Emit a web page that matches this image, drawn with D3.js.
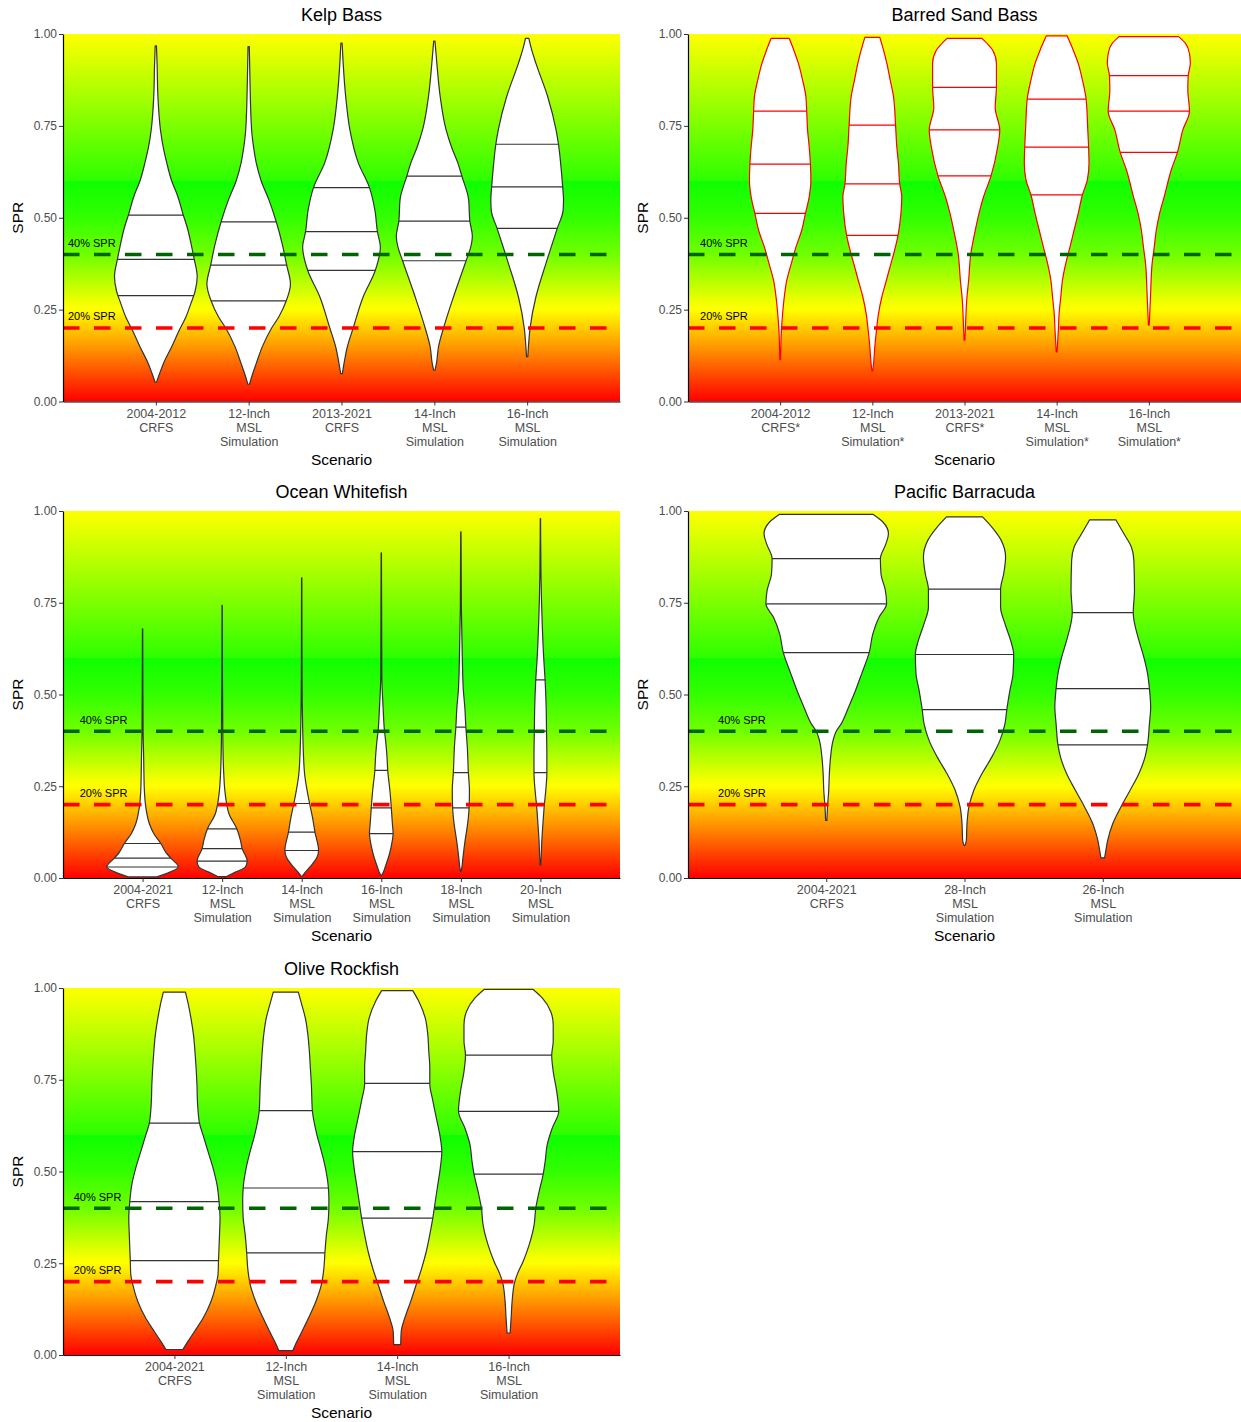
<!DOCTYPE html>
<html>
<head>
<meta charset="utf-8">
<script src="https://cdn.jsdelivr.net/npm/d3@7"></script>
<style>
  body { margin: 0; background: #ffffff; }
  svg { display: block; font-family: "Liberation Sans", Arial, Helvetica, sans-serif; }
</style>
</head>
<body>
<svg id="chart" width="1241" height="1422"></svg>
<script>
// ---- Kelp Bass ----
const kelpCategories = ["2004-2012\nCRFS", "12-Inch\nMSL\nSimulation", "2013-2021\nCRFS", "14-Inch\nMSL\nSimulation", "16-Inch\nMSL\nSimulation"];
// quartiles (75%, 50%, 25%)
const kelpQuantiles = [
  [0.507, 0.387, 0.288],
  [0.489, 0.371, 0.274],
  [0.582, 0.462, 0.357],
  [0.613, 0.491, 0.383],
  [0.700, 0.584, 0.471]
];
// density profiles: [SPR, relative half-width]
const kelpProfiles = [
  [[0.968,0.015],[0.92,0.03],[0.83,0.05],[0.74,0.11],[0.69,0.18],[0.65,0.26],[0.60,0.38],[0.56,0.52],[0.51,0.65],[0.47,0.76],[0.42,0.86],[0.387,0.92],[0.34,0.99],[0.30,0.94],[0.267,0.84],[0.23,0.72],[0.194,0.56],[0.149,0.38],[0.103,0.18],[0.076,0.09],[0.053,0.02]],
  [[0.966,0.015],[0.88,0.03],[0.74,0.07],[0.69,0.12],[0.65,0.18],[0.60,0.30],[0.55,0.48],[0.489,0.66],[0.43,0.80],[0.371,0.91],[0.32,1.0],[0.274,0.90],[0.23,0.72],[0.20,0.55],[0.15,0.33],[0.103,0.18],[0.07,0.08],[0.047,0.02]],
  [[0.975,0.015],[0.92,0.04],[0.83,0.10],[0.74,0.20],[0.65,0.40],[0.582,0.67],[0.52,0.80],[0.462,0.86],[0.42,0.93],[0.357,0.81],[0.285,0.52],[0.20,0.28],[0.149,0.14],[0.103,0.06],[0.076,0.02]],
  [[0.981,0.015],[0.92,0.06],[0.83,0.14],[0.74,0.28],[0.69,0.42],[0.65,0.56],[0.613,0.66],[0.55,0.82],[0.491,0.85],[0.45,0.91],[0.42,0.87],[0.383,0.76],[0.285,0.46],[0.20,0.22],[0.149,0.10],[0.103,0.05],[0.085,0.015]],
  [[0.988,0.04],[0.96,0.10],[0.92,0.21],[0.83,0.49],[0.74,0.69],[0.70,0.75],[0.65,0.80],[0.584,0.85],[0.55,0.87],[0.52,0.86],[0.471,0.72],[0.376,0.45],[0.285,0.21],[0.20,0.07],[0.149,0.03],[0.122,0.015]]
];

// ---- Barred Sand Bass ----
const sandBassCategories = ["2004-2012\nCRFS*", "12-Inch\nMSL\nSimulation*", "2013-2021\nCRFS*", "14-Inch\nMSL\nSimulation*", "16-Inch\nMSL\nSimulation*"];
const sandBassQuantiles = [
  [0.790, 0.646, 0.512],
  [0.752, 0.592, 0.452],
  [0.855, 0.739, 0.614],
  [0.823, 0.692, 0.562],
  [0.887, 0.790, 0.678]
];
const sandBassProfiles = [
  [[0.988,0.22],[0.956,0.33],[0.92,0.44],[0.875,0.54],[0.83,0.62],[0.79,0.64],[0.74,0.66],[0.693,0.70],[0.646,0.73],[0.60,0.74],[0.557,0.70],[0.512,0.61],[0.466,0.52],[0.42,0.38],[0.376,0.27],[0.33,0.16],[0.285,0.10],[0.24,0.06],[0.194,0.03],[0.114,0.01]],
  [[0.991,0.18],[0.956,0.27],[0.92,0.35],[0.875,0.43],[0.83,0.51],[0.752,0.56],[0.693,0.59],[0.648,0.63],[0.592,0.66],[0.557,0.71],[0.512,0.69],[0.452,0.62],[0.40,0.51],[0.376,0.45],[0.33,0.34],[0.285,0.23],[0.24,0.15],[0.194,0.10],[0.149,0.06],[0.103,0.03],[0.083,0.01]],
  [[0.988,0.42],[0.97,0.58],[0.956,0.68],[0.92,0.77],[0.855,0.77],[0.80,0.74],[0.739,0.85],[0.693,0.80],[0.614,0.64],[0.557,0.46],[0.512,0.35],[0.466,0.26],[0.40,0.15],[0.33,0.10],[0.285,0.06],[0.194,0.02],[0.167,0.01]],
  [[0.995,0.25],[0.956,0.40],[0.92,0.52],[0.875,0.62],[0.823,0.71],[0.74,0.75],[0.692,0.77],[0.648,0.78],[0.603,0.74],[0.562,0.62],[0.512,0.52],[0.466,0.42],[0.42,0.32],[0.376,0.22],[0.33,0.14],[0.285,0.10],[0.24,0.06],[0.194,0.04],[0.135,0.01]],
  [[0.993,0.72],[0.975,0.88],[0.947,0.98],[0.92,1.0],[0.887,0.95],[0.848,0.94],[0.79,0.98],[0.739,0.82],[0.678,0.69],[0.63,0.54],[0.557,0.37],[0.512,0.26],[0.466,0.18],[0.42,0.13],[0.376,0.08],[0.285,0.04],[0.208,0.01]]
];

// ---- Ocean Whitefish ----
const whitefishCategories = ["2004-2021\nCRFS", "12-Inch\nMSL\nSimulation", "14-Inch\nMSL\nSimulation", "16-Inch\nMSL\nSimulation", "18-Inch\nMSL\nSimulation", "20-Inch\nMSL\nSimulation"];
const whitefishQuantiles = [
  [0.094, 0.054, 0.030],
  [0.134, 0.080, 0.046],
  [0.203, 0.125, 0.075],
  [0.293, 0.191, 0.121],
  [0.411, 0.287, 0.191],
  [0.540, 0.400, 0.287]
];
const whitefishProfiles = [
  [[0.679,0.004],[0.55,0.008],[0.40,0.015],[0.33,0.03],[0.30,0.035],[0.239,0.05],[0.193,0.09],[0.148,0.19],[0.12,0.32],[0.094,0.51],[0.07,0.65],[0.054,0.79],[0.03,1.0],[0.016,0.76],[0.003,0.40]],
  [[0.743,0.004],[0.55,0.008],[0.375,0.02],[0.284,0.045],[0.239,0.075],[0.20,0.13],[0.175,0.19],[0.134,0.41],[0.103,0.51],[0.08,0.56],[0.046,0.70],[0.03,0.65],[0.016,0.37],[0.004,0.12]],
  [[0.818,0.004],[0.55,0.01],[0.375,0.035],[0.284,0.08],[0.239,0.15],[0.203,0.22],[0.166,0.30],[0.125,0.37],[0.075,0.47],[0.057,0.43],[0.03,0.23],[0.012,0.07],[0.005,0.02]],
  [[0.886,0.004],[0.55,0.015],[0.466,0.05],[0.40,0.09],[0.375,0.12],[0.33,0.16],[0.293,0.18],[0.239,0.24],[0.191,0.28],[0.148,0.31],[0.121,0.33],[0.103,0.31],[0.066,0.23],[0.03,0.11],[0.012,0.04],[0.007,0.01]],
  [[0.943,0.004],[0.73,0.015],[0.602,0.04],[0.511,0.07],[0.466,0.11],[0.411,0.14],[0.357,0.18],[0.287,0.21],[0.239,0.24],[0.191,0.23],[0.148,0.19],[0.103,0.12],[0.057,0.06],[0.03,0.03],[0.018,0.008]],
  [[0.979,0.004],[0.83,0.015],[0.693,0.05],[0.602,0.09],[0.54,0.13],[0.466,0.16],[0.40,0.17],[0.33,0.18],[0.287,0.18],[0.239,0.15],[0.20,0.11],[0.148,0.07],[0.103,0.04],[0.057,0.02],[0.035,0.008]]
];

// ---- Pacific Barracuda ----
const barracudaCategories = ["2004-2021\nCRFS", "28-Inch\nMSL\nSimulation", "26-Inch\nMSL\nSimulation"];
const barracudaQuantiles = [
  [0.870, 0.747, 0.614],
  [0.787, 0.609, 0.459],
  [0.723, 0.516, 0.363]
];
const barracudaProfiles = [
  [[0.991,0.75],[0.97,0.91],[0.938,1.0],[0.911,0.96],[0.87,0.87],[0.829,0.88],[0.784,0.95],[0.747,0.97],[0.711,0.85],[0.666,0.75],[0.614,0.69],[0.557,0.57],[0.511,0.47],[0.466,0.36],[0.42,0.24],[0.40,0.16],[0.375,0.11],[0.33,0.07],[0.284,0.05],[0.239,0.04],[0.193,0.02],[0.157,0.01]],
  [[0.984,0.29],[0.956,0.44],[0.92,0.59],[0.875,0.66],[0.829,0.63],[0.787,0.58],[0.738,0.58],[0.693,0.65],[0.648,0.74],[0.609,0.79],[0.557,0.78],[0.511,0.73],[0.459,0.68],[0.42,0.65],[0.375,0.57],[0.33,0.44],[0.284,0.28],[0.239,0.15],[0.193,0.07],[0.148,0.04],[0.103,0.03],[0.089,0.01]],
  [[0.976,0.21],[0.938,0.34],[0.902,0.46],[0.866,0.50],[0.784,0.51],[0.723,0.49],[0.648,0.58],[0.602,0.66],[0.557,0.72],[0.516,0.75],[0.466,0.77],[0.42,0.75],[0.363,0.72],[0.33,0.68],[0.284,0.58],[0.239,0.44],[0.193,0.29],[0.148,0.16],[0.103,0.08],[0.075,0.05],[0.055,0.03]]
];

// ---- Olive Rockfish ----
const oliveCategories = ["2004-2021\nCRFS", "12-Inch\nMSL\nSimulation", "14-Inch\nMSL\nSimulation", "16-Inch\nMSL\nSimulation"];
const oliveQuantiles = [
  [0.632, 0.418, 0.257],
  [0.666, 0.455, 0.278],
  [0.740, 0.554, 0.373],
  [0.817, 0.664, 0.493]
];
const oliveProfiles = [
  [[0.989,0.22],[0.954,0.28],[0.918,0.33],[0.873,0.38],[0.827,0.41],[0.737,0.45],[0.69,0.46],[0.632,0.50],[0.60,0.57],[0.555,0.67],[0.51,0.77],[0.464,0.85],[0.418,0.89],[0.373,0.91],[0.328,0.90],[0.257,0.88],[0.219,0.87],[0.192,0.83],[0.146,0.73],[0.10,0.57],[0.064,0.40],[0.037,0.27],[0.015,0.17]],
  [[0.989,0.25],[0.954,0.32],[0.918,0.39],[0.873,0.44],[0.827,0.47],[0.782,0.49],[0.737,0.51],[0.666,0.53],[0.60,0.62],[0.555,0.71],[0.51,0.79],[0.455,0.85],[0.419,0.86],[0.373,0.85],[0.328,0.81],[0.278,0.78],[0.237,0.76],[0.192,0.71],[0.146,0.60],[0.10,0.45],[0.055,0.29],[0.028,0.19],[0.012,0.14]],
  [[0.993,0.31],[0.964,0.43],[0.918,0.56],[0.873,0.61],[0.827,0.63],[0.782,0.65],[0.74,0.65],[0.693,0.71],[0.646,0.78],[0.60,0.85],[0.554,0.89],[0.51,0.86],[0.464,0.81],[0.419,0.76],[0.373,0.71],[0.328,0.65],[0.282,0.58],[0.237,0.49],[0.192,0.38],[0.146,0.27],[0.10,0.15],[0.064,0.08],[0.028,0.07]],
  [[0.996,0.49],[0.973,0.67],[0.936,0.84],[0.90,0.89],[0.855,0.89],[0.817,0.86],[0.773,0.89],[0.718,0.96],[0.664,1.0],[0.618,0.87],[0.573,0.77],[0.528,0.73],[0.493,0.69],[0.446,0.61],[0.398,0.54],[0.355,0.51],[0.30,0.41],[0.255,0.29],[0.219,0.17],[0.198,0.12],[0.146,0.07],[0.10,0.05],[0.06,0.03]]
];

// reference SPR levels
const referenceLevels = [
  { value: 0.4, label: "40% SPR", color: "#006400" },
  { value: 0.2, label: "20% SPR", color: "#ff0000" }
];
const yTicks = [0, 0.25, 0.5, 0.75, 1];

// background colour ramp, keyed by SPR
const bgStops = [
  { spr: 1.0,   color: "rgb(255,255,0)" },
  { spr: 0.6,   color: "rgb(45,255,0)" },
  { spr: 0.6,   color: "rgb(14,255,0)" },
  { spr: 0.5,   color: "rgb(50,255,0)" },
  { spr: 0.4,   color: "rgb(112,255,0)" },
  { spr: 0.32,  color: "rgb(190,255,0)" },
  { spr: 0.27,  color: "rgb(242,255,0)" },
  { spr: 0.25,  color: "rgb(255,255,0)" },
  { spr: 0.0,   color: "rgb(255,0,0)" }
];

// layout of the five panels
const panels = [
  { title: "Kelp Bass", categories: kelpCategories, quantiles: kelpQuantiles, profiles: kelpProfiles,
    stroke: "#333333", left: 63, right: 620, top: 34, bottom: 401.5, labelAt: 0.31 },
  { title: "Barred Sand Bass", categories: sandBassCategories, quantiles: sandBassQuantiles, profiles: sandBassProfiles,
    stroke: "#ff0000", left: 688, right: 1241, top: 34, bottom: 401.5, labelAt: 0.39 },
  { title: "Ocean Whitefish", categories: whitefishCategories, quantiles: whitefishQuantiles, profiles: whitefishProfiles,
    stroke: "#333333", left: 63, right: 620, top: 511, bottom: 878, labelAt: 0.51 },
  { title: "Pacific Barracuda", categories: barracudaCategories, quantiles: barracudaQuantiles, profiles: barracudaProfiles,
    stroke: "#333333", left: 688, right: 1241, top: 511, bottom: 878, labelAt: 0.39 },
  { title: "Olive Rockfish", categories: oliveCategories, quantiles: oliveQuantiles, profiles: oliveProfiles,
    stroke: "#333333", left: 63, right: 620, top: 988, bottom: 1355, labelAt: 0.31 }
];

const svg = d3.select("#chart");
const defs = svg.append("defs");

const grad = defs.append("linearGradient")
  .attr("id", "sprRamp")
  .attr("x1", 0).attr("y1", 0).attr("x2", 0).attr("y2", 1);
grad.selectAll("stop").data(bgStops).join("stop")
  .attr("offset", d => (1 - d.spr))
  .attr("stop-color", d => d.color);

let clipId = 0;

panels.forEach((p) => {
  const g = svg.append("g").attr("class", "panel");

  const x = d3.scalePoint()
    .domain(p.categories)
    .range([p.left, p.right])
    .padding(1);
  const y = d3.scaleLinear().domain([0, 1]).range([p.bottom, p.top]);
  const halfWidth = d3.scaleLinear().domain([0, 1]).range([0, x.step() * 0.45]);

  // background ramp
  g.append("rect")
    .attr("x", p.left).attr("y", p.top)
    .attr("width", p.right - p.left).attr("height", p.bottom - p.top)
    .attr("fill", "url(#sprRamp)");

  // violins
  const violin = (cat) => d3.area()
    .curve(d3.curveMonotoneY)
    .y(d => y(d[0]))
    .x0(d => x(cat) - halfWidth(d[1]))
    .x1(d => x(cat) + halfWidth(d[1]));

  p.categories.forEach((cat, i) => {
    const shape = violin(cat)(p.profiles[i]);
    const id = "vclip" + (clipId++);
    defs.append("clipPath").attr("id", id).append("path").attr("d", shape);

    g.append("path")
      .attr("d", shape)
      .attr("fill", "#ffffff")
      .attr("stroke", "none");

    // quartile lines, clipped to the violin outline
    g.append("g").attr("clip-path", `url(#${id})`)
      .selectAll("line").data(p.quantiles[i]).join("line")
      .attr("x1", x(cat) - x.step() * 0.5)
      .attr("x2", x(cat) + x.step() * 0.5)
      .attr("y1", d => y(d)).attr("y2", d => y(d))
      .attr("stroke", p.stroke)
      .attr("stroke-width", 1.2);

    g.append("path")
      .attr("d", shape)
      .attr("fill", "none")
      .attr("stroke", p.stroke)
      .attr("stroke-width", 1.2)
      .attr("stroke-linejoin", "round");
  });

  // reference lines
  g.selectAll("line.ref").data(referenceLevels).join("line")
    .attr("class", "ref")
    .attr("x1", p.left).attr("x2", p.right)
    .attr("y1", d => y(d.value)).attr("y2", d => y(d.value))
    .attr("stroke", d => d.color)
    .attr("stroke-width", 3.6)
    .attr("stroke-dasharray", "16.5,14.5");

  g.selectAll("text.ref").data(referenceLevels).join("text")
    .attr("class", "ref")
    .attr("x", p.left + p.labelAt * x.step())
    .attr("y", d => y(d.value + 0.031))
    .attr("dy", "0.35em")
    .attr("text-anchor", "middle")
    .attr("font-size", 11)
    .attr("fill", "#000000")
    .text(d => d.label);

  // y axis
  const yAxis = g.append("g")
    .attr("transform", `translate(${p.left},0)`)
    .call(d3.axisLeft(y).tickValues(yTicks).tickFormat(d3.format(".2f")).tickSize(4).tickSizeOuter(0).tickPadding(2));
  yAxis.select(".domain").attr("stroke", "#000000").attr("stroke-width", 1.2);
  yAxis.selectAll(".tick line").attr("stroke", "#333333").attr("stroke-width", 1);
  yAxis.selectAll(".tick text")
    .attr("font-size", 12)
    .attr("fill", "#4d4d4d")
    .attr("font-family", "Liberation Sans, Arial, sans-serif");

  // x axis
  const xAxis = g.append("g")
    .attr("transform", `translate(0,${p.bottom})`)
    .call(d3.axisBottom(x).tickSize(4).tickSizeOuter(0).tickFormat(""));
  xAxis.select(".domain").attr("stroke", "#000000").attr("stroke-width", 1.2);
  xAxis.selectAll(".tick line").attr("stroke", "#333333").attr("stroke-width", 1);
  xAxis.selectAll(".tick").each(function (d) {
    const t = d3.select(this).append("text")
      .attr("text-anchor", "middle")
      .attr("font-size", 12.5)
      .attr("fill", "#4d4d4d")
      .attr("font-family", "Liberation Sans, Arial, sans-serif");
    d.split("\n").forEach((line, li) => {
      t.append("tspan").attr("x", 0).attr("y", 16 + li * 14).text(line);
    });
  });

  // titles
  const cx = (p.left + p.right) / 2;
  g.append("text")
    .attr("x", cx).attr("y", p.top - 13)
    .attr("text-anchor", "middle")
    .attr("font-size", 18)
    .attr("fill", "#000000")
    .text(p.title);

  g.append("text")
    .attr("x", cx).attr("y", p.bottom + 63)
    .attr("text-anchor", "middle")
    .attr("font-size", 15.5)
    .attr("fill", "#000000")
    .text("Scenario");

  g.append("text")
    .attr("transform", `translate(${p.left - 40},${(p.top + p.bottom) / 2}) rotate(-90)`)
    .attr("text-anchor", "middle")
    .attr("font-size", 15.5)
    .attr("fill", "#000000")
    .text("SPR");
});
</script>
</body>
</html>
